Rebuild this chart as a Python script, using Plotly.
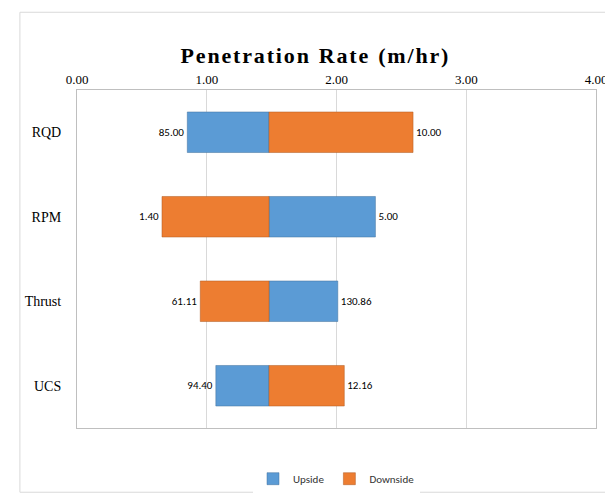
import plotly.graph_objects as go

categories = ["RQD", "RPM", "Thrust", "UCS"]
base_value = 1.48
upside_end = [0.85, 2.30, 2.01, 1.07]
downside_end = [2.59, 0.655, 0.95, 2.06]
upside_labels = ["85.00", "5.00", "130.86", "94.40"]
downside_labels = ["10.00", "1.40", "61.11", "12.16"]
tick_vals = [0, 1, 2, 3, 4]
tick_text = ["0.00", "1.00", "2.00", "3.00", "4.00"]
title_text = "Penetration Rate (m/hr)"

fig = go.Figure()
for name, ends, labels, color in [
    ("Upside", upside_end, upside_labels, "#5B9BD5"),
    ("Downside", downside_end, downside_labels, "#ED7D31"),
]:
    fig.add_trace(go.Bar(
        y=categories, x=[e - base_value for e in ends], base=base_value,
        orientation="h", name=name, marker=dict(color=color, line=dict(color="#41719C" if name == "Upside" else "#AE5A21", width=0.5)),
        text=labels, textposition="outside", cliponaxis=False,
        textfont=dict(family="Calibri, Carlito, Liberation Sans, sans-serif", size=11, color="#000"),
        width=0.48,
    ))

spaced = "\u200a".join(title_text).replace("\u200a \u200a", "\u2009 ")
fig.update_layout(
    width=613, height=497, barmode="overlay",
    paper_bgcolor="white", plot_bgcolor="white",
    margin=dict(l=69, r=25, t=82, b=67),
    title=dict(text="<b>" + spaced + "</b>", x=0.5, xanchor="center", y=0.92,
               font=dict(family="Liberation Serif, Times New Roman, serif", size=22, color="#000")),
    xaxis=dict(side="top", range=[0, 4], tickvals=tick_vals, ticktext=tick_text, automargin=False,
               showgrid=True, gridcolor="#D9D9D9", zeroline=False,
               tickfont=dict(family="Liberation Serif, serif", size=13, color="#000"),
               mirror=True, showline=True, linecolor="#BFBFBF"),
    yaxis=dict(autorange="reversed", automargin=False, tickfont=dict(family="Liberation Serif, serif", size=14, color="#000"),
               mirror=True, showline=True, linecolor="#BFBFBF", ticks="", ticklabelstandoff=12),
    legend=dict(orientation="h", x=0.5, xanchor="center", y=-0.15, yanchor="middle",
                itemwidth=30,
                font=dict(family="Calibri, Carlito, Liberation Sans, sans-serif", size=11, color="#333")),
    shapes=[dict(type="rect", xref="paper", yref="paper", x0=-0.11, x1=1.025, y0=-0.19, y1=1.23,
                 line=dict(color="#D9D9D9", width=1))],
)
fig.write_html("out.html")
